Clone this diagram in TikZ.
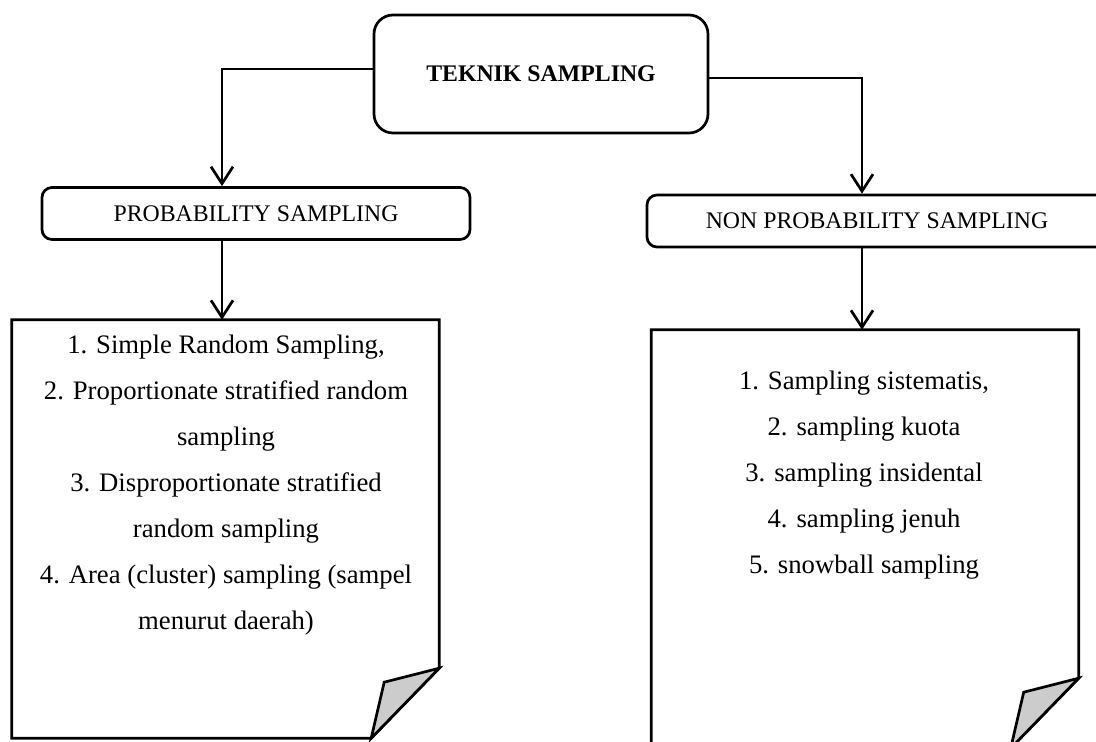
\documentclass[tikz,border=0pt]{standalone}
\usepackage{fontspec}
\setmainfont{Liberation Serif}
\usetikzlibrary{arrows.meta}

\tikzset{
  mainbox/.style={draw, line width=2.7pt, rounded corners=19pt, minimum width=334pt, minimum height=118pt, font=\fontsize{23.8}{28}\selectfont\bfseries},
  groupbox/.style={draw, line width=2.7pt, rounded corners=10pt, minimum height=52pt, font=\fontsize{23.8}{28}\selectfont},
  docarea/.style={minimum width=427pt, minimum height=418pt, inner sep=0pt},
  listtext/.style={align=center, font=\fontsize{26.7}{46}\selectfont},
  link/.style={line width=2.7pt, -{Straight Barb[length=17pt,width=22pt]}},
}

\begin{document}
\begin{tikzpicture}[x=1pt,y=-1pt]
  % page frame
  \useasboundingbox (0,0) rectangle (1096,742);
  \clip (0,0) rectangle (1096,742);

  % boxes
  \node[mainbox] (teknik) at (541,74) {TEKNIK SAMPLING};
  \node[groupbox, minimum width=428pt] (prob) at (256,213.5) {PROBABILITY SAMPLING};
  \node[groupbox, minimum width=460pt] (nonprob) at (877,221) {NON PROBABILITY SAMPLING};

  % paper sheets with folded corner
  \node[docarea] (probdoc) at (225.5,529) {};
  \node[docarea] (nonprobdoc) at (865,539) {};
  \foreach \d in {probdoc,nonprobdoc} {
    \draw[line width=2.7pt] (\d.north west) -- (\d.north east) -- ([yshift=70pt]\d.south east)
      -- ([xshift=-68pt]\d.south east) -- (\d.south west) -- cycle;
    \filldraw[line width=2.7pt, fill=gray!40] ([yshift=70pt]\d.south east)
      -- ([xshift=-55pt,yshift=56pt]\d.south east) -- ([xshift=-68pt]\d.south east) -- cycle;
  }

  % lists
  \node[listtext] (problist) at (226,485.5) {1. Simple Random Sampling,\\ 2. Proportionate stratified random\\ sampling\\ 3. Disproportionate stratified\\ random sampling\\ 4. Area (cluster) sampling (sampel\\ menurut daerah)};
  \node[listtext] (nonproblist) at (864,475.5) {1. Sampling sistematis,\\ 2. sampling kuota\\ 3. sampling insidental\\ 4. sampling jenuh\\ 5. snowball sampling};

  % connectors
  \draw[link] ([yshift=5pt]teknik.west) -| ([xshift=-34pt]prob.north);
  \draw[link] ([yshift=-4pt]teknik.east) -| ([xshift=-15pt]nonprob.north);
  \draw[link] ([xshift=-34pt]prob.south) -- ([xshift=-3.5pt]probdoc.north);
  \draw[link] ([xshift=-15pt]nonprob.south) -- ([xshift=-3pt]nonprobdoc.north);
\end{tikzpicture}
\end{document}
